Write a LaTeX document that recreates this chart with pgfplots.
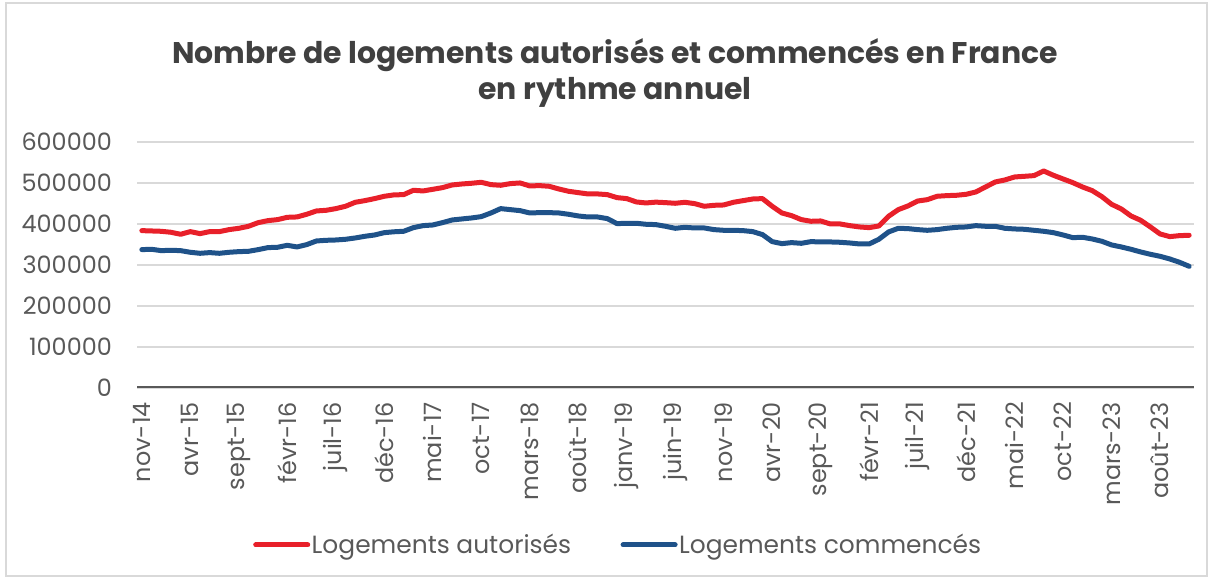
\documentclass[border=0pt]{standalone}
\usepackage{fontspec}
\setmainfont{Poppins}
\usepackage{pgfplots}
\pgfplotsset{compat=1.18}
\usepackage{pgfplotstable}
\definecolor{cred}{RGB}{232,32,42}
\definecolor{cblue}{RGB}{31,82,137}
\definecolor{cgrid}{RGB}{217,217,217}
\definecolor{ctxt}{RGB}{89,89,89}
\definecolor{cttl}{RGB}{64,64,64}
\pgfplotstableread{
i aut com
0 383800 337500
1 383000 338300
2 382200 335000
3 379800 335900
4 374900 335000
5 381400 331000
6 376500 328500
7 381400 330200
8 381400 328500
9 386300 331000
10 389500 332600
11 394400 333400
12 403300 337500
13 408200 342400
14 410700 343200
15 416300 348000
16 417200 344000
17 423700 349700
18 431800 358600
19 433400 360200
20 437500 361000
21 443200 362700
22 452900 365900
23 457000 370000
24 461900 373200
25 467600 378900
26 471000 381000
27 471600 382200
28 482200 391100
29 480600 396000
30 484600 397600
31 488700 403300
32 495200 409800
33 497600 412300
34 499300 414700
35 501700 418000
36 496000 426900
37 494400 437500
38 498500 435000
39 500100 432600
40 492800 426900
41 493600 427700
42 492000 427700
43 485400 426900
44 479800 423700
45 476500 419600
46 473300 417100
47 473300 417100
48 471600 413100
49 464300 400900
50 461900 401700
51 453700 401700
52 451300 399300
53 453300 398500
54 452100 394400
55 450500 389500
56 452900 391900
57 449700 390300
58 443200 390300
59 445600 386300
60 446400 384600
61 452900 384600
62 457000 383800
63 461000 381400
64 461900 374100
65 443200 357000
66 426900 352100
67 420400 354600
68 410700 352900
69 406600 357000
70 407400 356200
71 400100 356200
72 400100 355400
73 396000 353700
74 392800 351300
75 391100 351300
76 395200 362700
77 418800 380600
78 435000 389500
79 444000 388700
80 456000 386300
81 459400 384600
82 467600 386300
83 469200 389500
84 470000 391900
85 472400 392800
86 478100 396000
87 490300 394400
88 502500 394400
89 507400 389500
90 514700 387900
91 516300 387100
92 518000 384600
93 529300 382200
94 518800 378900
95 509800 373200
96 500900 366700
97 490300 367600
98 481400 363500
99 466700 357800
100 448000 348900
101 436700 344000
102 419600 338300
103 409000 331800
104 392800 326100
105 375700 321200
106 369200 314700
107 371600 306600
108 372400 296800
}\datatable
\begin{document}
\begin{tikzpicture}[x=1bp,y=1bp]
\useasboundingbox (0,0) rectangle (1213,579);
\draw[cgrid, line width=1.5bp] (6,3) rectangle (1207,576);
\node[anchor=base, text=cttl, font=\fontsize{30}{36}\selectfont\bfseries] at (615,515) {Nombre de logements autorisés et commencés en France};
\node[anchor=base, text=cttl, font=\fontsize{30}{36}\selectfont\bfseries] at (615,479) {en rythme annuel};
\begin{axis}[
  at={(137bp,191bp)}, anchor=south west,
  scale only axis, width=1057bp, height=246bp,
  xmin=-0.5, xmax=108.5, ymin=0, ymax=600000,
  axis line style={draw=none},
  tick style={draw=none},
  ytick={0,100000,200000,300000,400000,500000,600000},
  ymajorgrids,
  major grid style={cgrid, line width=2bp},
  scaled y ticks=false,
  /pgf/number format/assume math mode=true,
  yticklabel={\pgfmathprintnumber[fixed,1000 sep={}]{\tick}},
  yticklabel style={anchor=east, inner sep=0pt, text=ctxt, font=\fontsize{24}{28}\selectfont},
  yticklabel shift=25bp,
  xtick={0,5,...,105},
  xticklabels={nov-14,avr-15,sept-15,févr-16,juil-16,déc-16,mai-17,oct-17,mars-18,août-18,janv-19,juin-19,nov-19,avr-20,sept-20,févr-21,juil-21,déc-21,mai-22,oct-22,mars-23,août-23},
  xticklabel style={rotate=90, anchor=east, inner sep=0pt, text=ctxt, font=\fontsize{24}{28}\selectfont},
  xticklabel shift=14bp,
  legend columns=2,
  legend style={at={(axis description cs:0.455,-0.638)}, anchor=center, draw=none, fill=none,
    font=\fontsize{25}{29}\selectfont, text=ctxt, nodes={inner sep=1.5bp},
    /tikz/every even column/.append style={column sep=48bp}},
  legend image code/.code={\draw[line width=5bp, line cap=round] (0bp,0bp) -- (52bp,0bp);},
]
\addplot[cred, line width=5bp, line join=round, line cap=round] table[x=i, y=aut] {\datatable};
\addlegendentry{Logements autorisés}
\addplot[cblue, line width=5bp, line join=round, line cap=round] table[x=i, y=com] {\datatable};
\addlegendentry{Logements commencés}
\draw[ctxt, line width=4bp] (axis cs:-0.5,0) -- (axis cs:108.5,0);
\end{axis}
\end{tikzpicture}
\end{document}
